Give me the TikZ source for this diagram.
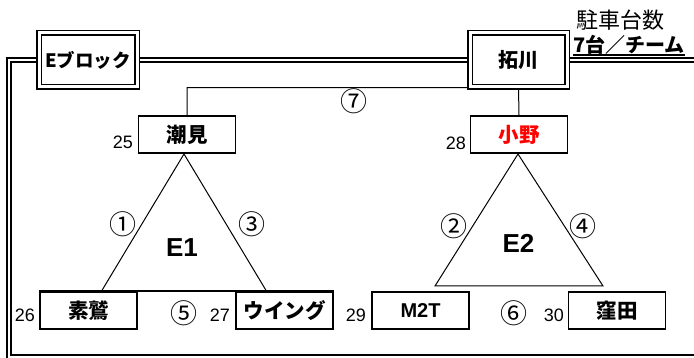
\documentclass[tikz,border=0pt]{standalone}
\usepackage{fontspec}
\setmainfont{Liberation Sans}
\newfontfamily\jp{Noto Sans CJK JP}
\usetikzlibrary{backgrounds}
\begin{document}
\begin{tikzpicture}[x=1pt,y=-1pt,
  box/.style={draw, line width=1.6pt, fill=white, minimum width=97pt, minimum height=37pt, inner sep=0pt, font=\jp\bfseries\fontsize{20.5}{20.5}\selectfont},
  dbox/.style={draw, line width=1.5pt, double, double distance=3pt, fill=white, minimum width=98pt, minimum height=54pt, inner sep=0pt, font=\jp\bfseries\fontsize{20}{20}\selectfont},
  dline/.style={line width=1.5pt, double, double distance=2.5pt},
  thinline/.style={line width=1pt},
  num/.style={font=\fontsize{18}{18}\selectfont, inner sep=0pt, anchor=base east},
  circ/.style={font=\jp\fontsize{27}{27}\selectfont, inner sep=0pt},
  big/.style={font=\bfseries\fontsize{26}{26}\selectfont, inner sep=0pt},
]
\useasboundingbox (0,0) rectangle (694,358);

% boxes
\node[dbox, font=\jp\bfseries\fontsize{18.5}{18.5}\selectfont] (eb) at (88,60) {Eブロック};
\node[dbox, minimum width=97pt] (tk) at (518.5,60) {拓川};
\node[box] (shio) at (187,134.5) {潮見};
\node[box, text=red] (ono) at (519,134.5) {小野};
\node[box] (sowa) at (88.5,310.5) {素鷲};
\node[box] (wing) at (284.5,310.5) {ウイング};
\node[box, font=\bfseries\fontsize{20}{20}\selectfont] (m2t) at (420.5,310.5) {M2T};
\node[box] (kubo) at (617,310.5) {窪田};

% free ends
\coordinate (lc) at (9,60);
\coordinate (bl) at (9,357);
\coordinate (br) at (700,357);
\coordinate (rc) at (700,60);

\begin{scope}[on background layer]
  \draw[dline] (eb.west) -- (lc) -- (bl) -- (br);
  \draw[dline] (eb.east) -- (tk.west);
  \draw[dline] (tk.east) -- (rc);
  \draw[thinline] (shio.north) |- (tk.south) -- (ono.north);
\end{scope}

% triangles
\coordinate (a1) at (184,154);
\coordinate (l1) at (101,292);
\coordinate (r1) at (267,292);
\coordinate (a2) at (518,154);
\coordinate (l2) at (435,286);
\coordinate (r2) at (603,286);
\draw[thinline] (l1) -- (a1) -- (r1);
\draw[line width=1.6pt] (sowa.north west) -- (wing.north east);
\draw[thinline] (a2) -- (l2) -- (r2) -- cycle;

\node[big] (e1) at (182,247.5) {E1};
\node[big] (e2) at (518.5,243) {E2};

% numbers
\node[num] (n25) at (133,149) {25};
\node[num] (n28) at (466,150) {28};
\node[num] (n26) at (35,322) {26};
\node[num] (n27) at (230,322) {27};
\node[num] (n29) at (366,322) {29};
\node[num] (n30) at (564,322) {30};

% circled
\node[circ] (c1) at (122.5,224) {①};
\node[circ] (c3) at (251.5,224) {③};
\node[circ] (c2) at (454,226) {②};
\node[circ] (c4) at (582.5,226) {④};
\node[circ] (c5) at (183.5,313) {⑤};
\node[circ] (c6) at (513.5,313) {⑥};
\node[circ] (c7) at (353.5,101) {⑦};

% parking note
\node[font=\jp\fontsize{22}{22}\selectfont, inner sep=0pt] (pk) at (620.5,20) {駐車台数};
\node[font=\jp\bfseries\fontsize{20}{20}\selectfont, inner sep=0pt, anchor=base west] (t7) at (573,53) {7台／チーム};
\draw[line width=1.5pt] ([yshift=-2pt]t7.base west) -- ([yshift=-2pt]t7.base east);
\end{tikzpicture}
\end{document}
